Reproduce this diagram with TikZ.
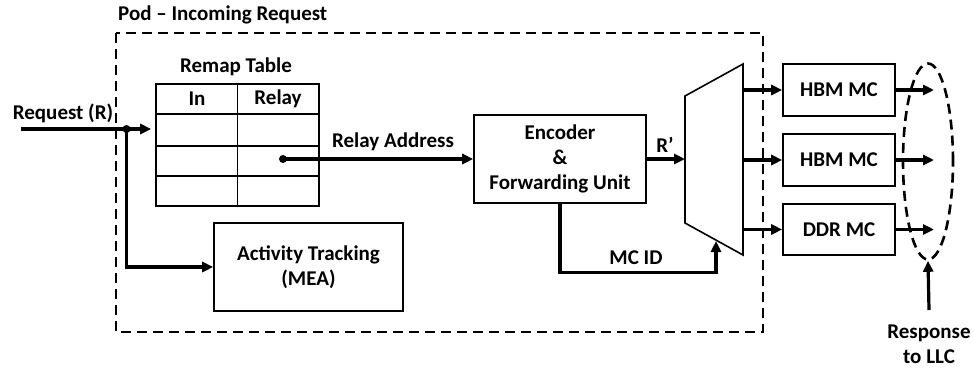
\documentclass[tikz,border=0pt]{standalone}
\usepackage{fontspec}
\setmainfont{Carlito}
\usetikzlibrary{arrows.meta,shapes.geometric}
\begin{document}
\begin{tikzpicture}[x=1pt,y=-1pt,
  font=\fontsize{21}{25}\selectfont\bfseries,
  box/.style={draw,line width=1.6pt,inner sep=0pt,align=center},
  conn/.style={line width=3.2pt,-{Triangle[length=11pt,width=10pt]}},
  dashbox/.style={line width=2.6pt,dash pattern=on 10pt off 6pt},
  lbl/.style={inner sep=0pt,align=center},
  dot/.style={circle,fill,inner sep=0pt,minimum size=8pt}]
\useasboundingbox (0,0) rectangle (974,370);
% pod boundary
\draw[dashbox] (116,33) rectangle (763,332);
\node[lbl,anchor=west] (podlbl) at (118,15) {Pod -- Incoming Request};
% remap table
\node[lbl] (remaplbl) at (236,67) {Remap Table};
\node[box,minimum width=163pt,minimum height=122pt] (tbl) at (237.5,145) {};
\draw[line width=1.6pt] (237.5,84) -- (237.5,206);
\foreach \yy in {114,146,176} \draw[line width=1.6pt] (156,\yy) -- (319,\yy);
\node[lbl] (inlbl) at (197,99) {In};
\node[lbl] (relaylbl) at (278,99) {Relay};
% activity
\node[box,minimum width=189pt,minimum height=88pt] (act) at (308.5,267) {Activity Tracking\\(MEA)};
% encoder
\node[box,minimum width=172pt,minimum height=88pt] (enc) at (560,159) {Encoder\\\&\\Forwarding Unit};
% mux
\coordinate (mtl) at (685,96);
\coordinate (mtr) at (743,64);
\coordinate (mbr) at (743,255);
\coordinate (mbl) at (685,223);
\draw[line width=1.6pt,line join=miter] (mtl) -- (mtr) -- (mbr) -- (mbl) -- cycle;
\coordinate (muxin) at (685,159);
\coordinate (mcidtip) at (716,241);
% memory controllers
\node[box,minimum width=112pt,minimum height=52pt] (hbm1) at (839,90) {HBM MC};
\node[box,minimum width=112pt,minimum height=52pt] (hbm2) at (839,160) {HBM MC};
\node[box,minimum width=112pt,minimum height=51pt] (ddr) at (839,229.5) {DDR MC};
% ellipse
\node[draw,dashbox,ellipse,minimum width=50pt,minimum height=196pt,inner sep=0pt] (ell) at (928,161.5) {};
% request
\coordinate (reqstart) at (21,129);
\node[dot] (split) at (126.5,129) {};
\node[lbl] (reqlbl) at (63,113) {Request (R)};
\draw[conn,shorten >=4pt] (reqstart) -- (tbl.west |- split);
\draw[conn] (split.center) |- (act.west);
% relay
\node[dot] (relaydot) at (283,159) {};
\draw[conn] (relaydot.center) -- (enc.west);
\node[lbl] (raddr) at (393,142) {Relay Address};
% R'
\draw[conn] (enc.east) -- (muxin);
\node[lbl] (rp) at (665,145) {R’};
% MC ID
\draw[conn] (enc.south) -- ++(0,69) -| (mcidtip);
\node[lbl] (mcid) at (636,258) {MC ID};
% outputs
\draw[conn] (mtr |- hbm1.west) -- (hbm1.west);
\draw[conn] (mtr |- hbm2.west) -- (hbm2.west);
\draw[conn] (mtr |- ddr.west) -- (ddr.west);
\coordinate (o1) at (934,90);
\coordinate (o2) at (934,160);
\coordinate (o3) at (934,229.5);
\draw[conn] (hbm1.east) -- (o1);
\draw[conn] (hbm2.east) -- (o2);
\draw[conn] (ddr.east) -- (o3);
% response
\coordinate (resp) at (929,310);
\draw[conn] (resp) -- (ell.south);
\node[lbl] (resplbl) at (929,344.5) {Response\\to LLC};
\end{tikzpicture}
\end{document}
